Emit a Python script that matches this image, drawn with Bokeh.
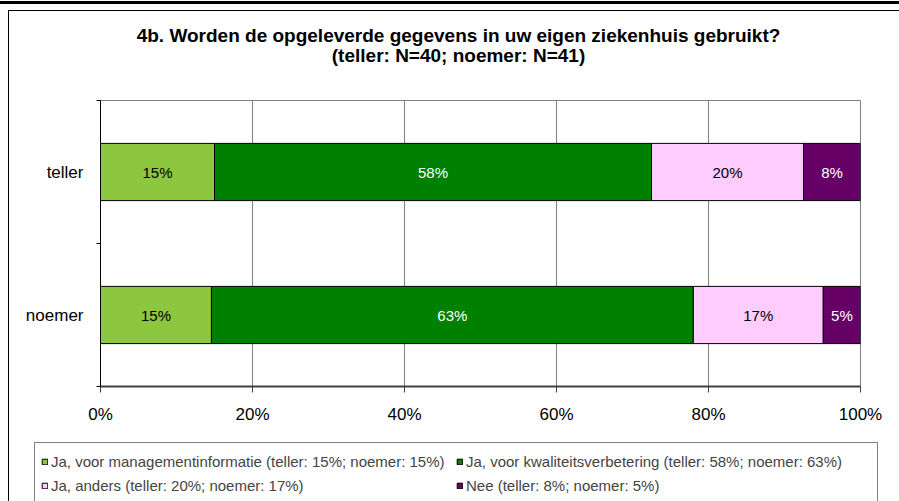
from bokeh.plotting import figure
from bokeh.layouts import column
from bokeh.models import (ColumnDataSource, Range1d, FixedTicker, PrintfTickFormatter,
                          Legend, LegendItem, Label)
from bokeh.core.properties import value
from bokeh.embed import file_html
from bokeh.resources import INLINE

# ---------------- data ----------------
title_lines = ["4b. Worden de opgeleverde gegevens in uw eigen ziekenhuis gebruikt?",
               "(teller: N=40; noemer: N=41)"]
categories = ["teller", "noemer"]
series_names = ["Ja, voor managementinformatie", "Ja, voor kwaliteitsverbetering",
                "Ja, anders", "Nee"]
mgmt = [15.0, 14.6]
kwaliteit = [57.5, 63.4]
anders = [20.0, 17.1]
nee = [7.5, 4.9]
x_ticks = [0, 20, 40, 60, 80, 100]

# ---------------- style ----------------
colors = ["#8DC63F", "#008000", "#FFCCFF", "#660066"]
label_colors = ["black", "white", "black", "white"]
FONT = "Liberation Sans"
W = 899
H_TITLE, H_MAIN, H_LEG = 90, 341, 70


def line_bg(*segs):
    parts = [f"linear-gradient(#000,#000) {x}px {y}px / {w}px {h}px no-repeat"
             for x, y, w, h in segs]
    return ", ".join(parts + ["#ffffff"])


def blank_fig(height):
    f = figure(width=W, height=height, output_backend="svg", toolbar_location=None,
               x_range=Range1d(0, W), y_range=Range1d(0, height),
               x_axis_location=None, y_axis_location=None, min_border=0,
               frame_align=False)
    f.grid.visible = False
    f.outline_line_color = None
    f.border_fill_color = None
    f.background_fill_color = None
    f.title.visible = False
    return f


# ---------------- title strip ----------------
pt = blank_fig(H_TITLE)
pt.styles = {"background": line_bg((0, 1, W, 3), (8, 10, 1, H_TITLE - 10),
                                   (8, 10, W - 8, 1))}
for i, line in enumerate(title_lines):
    pt.add_layout(Label(x=458, y=H_TITLE - 35 - 20 * i, text=line,
                        text_align="center", text_baseline="middle",
                        text_font=FONT, text_font_style="bold",
                        text_font_size="19px", text_color="black"))

# ---------------- main chart ----------------
n = len(categories)
ypos = [n - i - 0.5 for i in range(n)]
bounds = list(range(n + 1))

p = figure(width=W, height=H_MAIN, output_backend="svg", toolbar_location=None,
           x_range=Range1d(0, 100), y_range=Range1d(0, n),
           min_border_left=100, min_border_right=39, min_border_top=10,
           min_border_bottom=H_MAIN - 10 - 286, frame_align=False)
p.title.visible = False
p.border_fill_color = None
p.background_fill_color = "white"
p.styles = {"background": line_bg((8, 0, 1, H_MAIN))}
p.outline_line_color = "#808080"
p.outline_line_width = 1

series = [mgmt, kwaliteit, anders, nee]
sources = []
legend_labels = []
cum = [0.0] * n
for si, (name, vals) in enumerate(zip(series_names, series)):
    lefts = cum[:]
    rights = [c + v for c, v in zip(cum, vals)]
    src = ColumnDataSource(dict(
        y=ypos, left=lefts, right=rights,
        mid=[(a + b) / 2 for a, b in zip(lefts, rights)],
        txt=[f"{v:.0f}%" for v in vals]))
    sources.append(src)
    p.hbar(y="y", left="left", right="right", height=0.4, source=src,
           fill_color=colors[si], line_color="black", line_width=1)
    p.text(x="mid", y="y", text="txt", source=src, text_align="center",
           text_baseline="middle", text_color=label_colors[si],
           text_font=value(FONT), text_font_size="15px")
    legend_labels.append(name + " (" + "; ".join(
        f"{c}: {v:.0f}%" for c, v in zip(categories, vals)) + ")")
    cum = rights

p.xgrid.ticker = FixedTicker(ticks=x_ticks)
p.xgrid.grid_line_color = "#808080"
p.xgrid.grid_line_width = 1
p.ygrid.grid_line_color = None

p.xaxis.ticker = FixedTicker(ticks=x_ticks)
p.xaxis.formatter = PrintfTickFormatter(format="%d%%")
p.xaxis.axis_line_color = "#404040"
p.xaxis.axis_line_width = 2
p.xaxis.major_tick_line_color = "#404040"
p.xaxis.major_tick_out = 6
p.xaxis.major_tick_in = 0
p.xaxis.minor_tick_line_color = None
p.xaxis.major_label_text_font = FONT
p.xaxis.major_label_text_font_size = "17px"
p.xaxis.major_label_text_color = "black"
p.xaxis.major_label_standoff = 12

p.yaxis.ticker = FixedTicker(ticks=ypos, minor_ticks=bounds)
p.yaxis.major_label_overrides = {y: c for y, c in zip(ypos, categories)}
p.yaxis.major_tick_line_color = None
p.yaxis.major_tick_out = 0
p.yaxis.major_tick_in = 0
p.yaxis.minor_tick_line_color = "black"
p.yaxis.minor_tick_out = 4
p.yaxis.minor_tick_in = 0
p.yaxis.axis_line_color = "black"
p.yaxis.axis_line_width = 1
p.yaxis.major_label_text_font = FONT
p.yaxis.major_label_text_font_size = "17px"
p.yaxis.major_label_text_color = "black"
p.yaxis.major_label_standoff = 13

# ---------------- legend strip ----------------
pl = blank_fig(H_LEG)
pl.styles = {"background": line_bg((8, 0, 1, H_LEG))}
leg_renderers = []
for si, src in enumerate(sources):
    leg_renderers.append(pl.hbar(y="y", left="left", right="right", height=0.4,
                                 source=src, fill_color=colors[si],
                                 line_color="black", line_width=1,
                                 visible=False))
legend = Legend(items=[LegendItem(label=lab, renderers=[r])
                       for lab, r in zip(legend_labels, leg_renderers)],
                location=(34, -3), orientation="horizontal", ncols=2,
                label_text_font=FONT, label_text_font_size="15px",
                glyph_width=7, glyph_height=7, label_standoff=3,
                label_width=405, label_height=24,
                padding=6, spacing=0, margin=0,
                border_line_color="black", border_line_width=1,
                background_fill_color="white", background_fill_alpha=1)
pl.add_layout(legend, "center")

layout = column(pt, p, pl, spacing=0)
open("out.html", "w").write(file_html(layout, INLINE))
